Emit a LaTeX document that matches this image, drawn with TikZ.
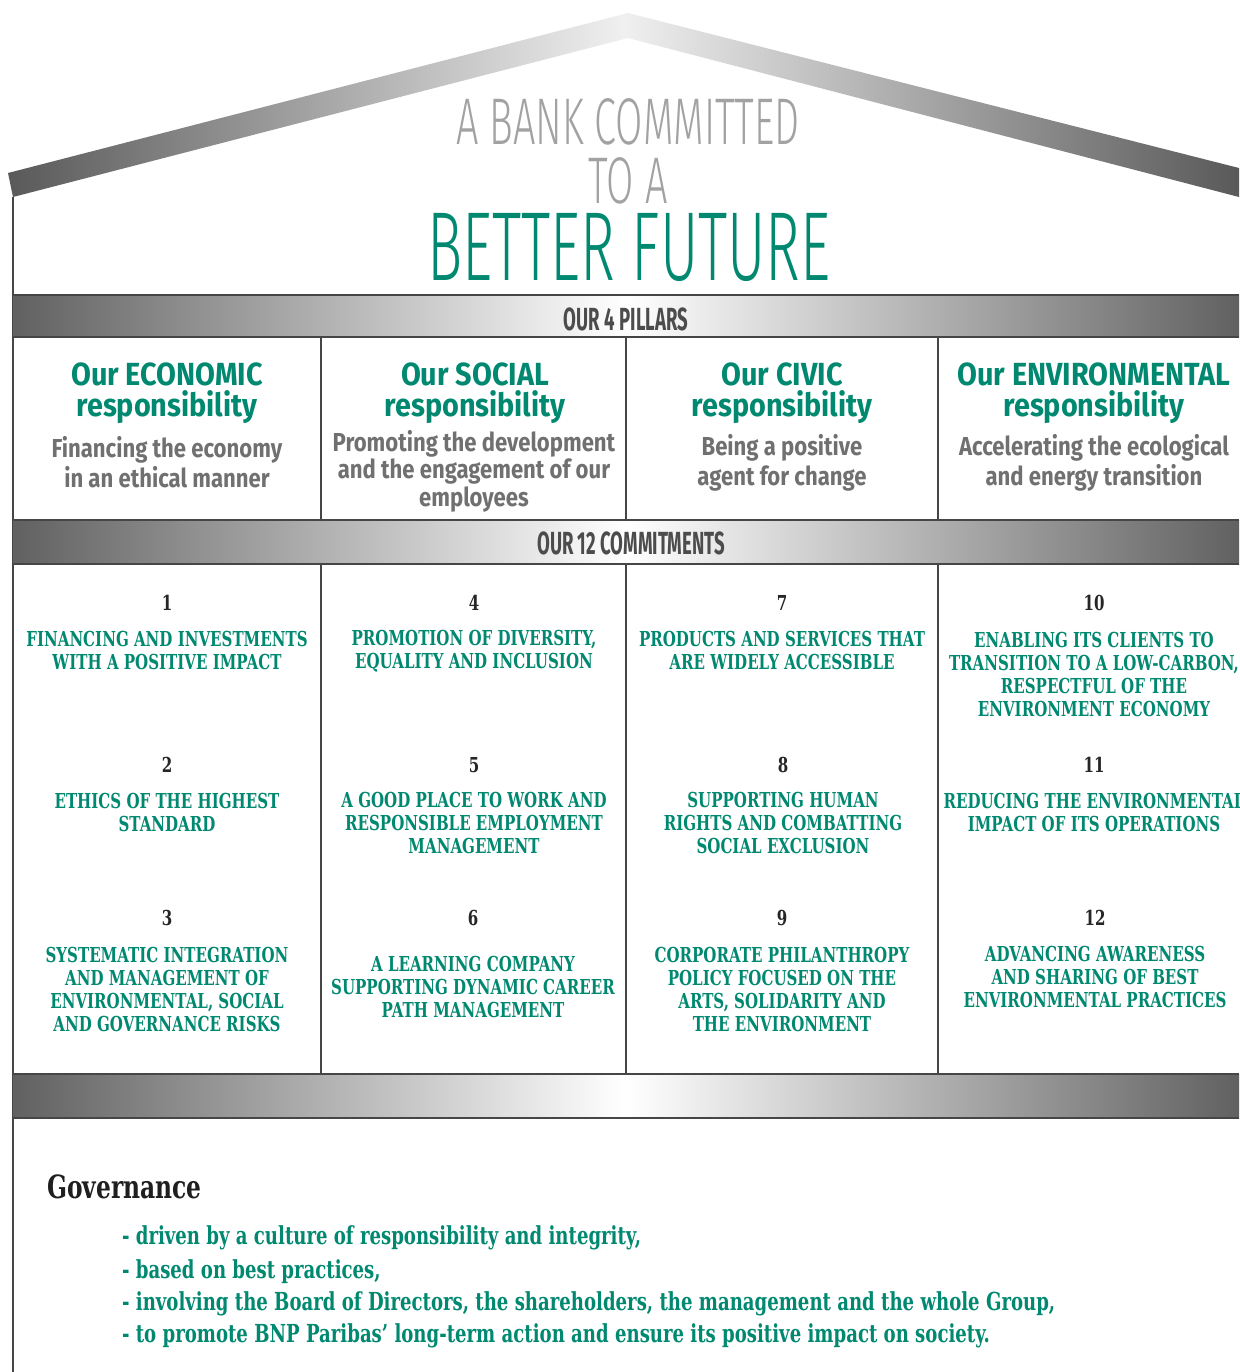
\documentclass[tikz,border=0pt]{standalone}
\usepackage{fontspec}
\setmainfont{Fira Sans}
\newfontfamily\titlefont{Fira Sans Light}[FakeStretch=0.6]
\newfontfamily\bandfont{Fira Sans}[FakeStretch=0.58]
\newfontfamily\headfont{Fira Sans}[FakeStretch=0.9]
\newfontfamily\subfont{Fira Sans}[FakeStretch=0.85]
\newfontfamily\slabfont{DejaVu Serif}[FakeStretch=0.73]
\usetikzlibrary{positioning}

\definecolor{bnpgreen}{RGB}{0,137,112}
\definecolor{titlegray}{RGB}{162,162,162}
\definecolor{subgray}{RGB}{112,112,112}
\definecolor{rulegray}{RGB}{70,70,70}

\tikzset{
  rule/.style={draw=rulegray, line width=0.8pt},
  band/.style={left color=black!62, right color=black!62, middle color=white},
  titletext/.style={inner sep=0pt, text=titlegray, font=\titlefont\fontsize{33}{33}\selectfont},
  bandlabel/.style={font=\bandfont\bfseries\fontsize{16}{16}\selectfont, text=black!70},
  pillarhead/.style={font=\headfont\bfseries\fontsize{16}{15.5}\selectfont, text=bnpgreen, align=center},
  pillarsub/.style={font=\subfont\bfseries\fontsize{13}{15}\selectfont, text=subgray, align=center},
  numlabel/.style={font=\slabfont\bfseries\fontsize{10.3}{11}\selectfont, text=black!85},
  commit/.style={font=\slabfont\bfseries\fontsize{10.3}{11.5}\selectfont, text=bnpgreen, align=center},
  govline/.style={font=\slabfont\bfseries\fontsize{12.4}{14}\selectfont, text=bnpgreen, anchor=west},
}

\begin{document}
\begin{tikzpicture}[x=0.5pt, y=-0.5pt]
    \fill[white] (0,0) rectangle (1239,1372);
    \useasboundingbox (0,0) rectangle (1239,1372);

    % Roof
    \shade[left color=black!65, right color=black!65, middle color=black!6]
        (8,173) -- (628,13) -- (1239,168) -- (1239,197) -- (628,38) -- (13,197) -- cycle;
    \draw[rule] (13,197) -- (13,1372);

    % Title
    \node[titletext] (title1) at (628,122) {A BANK COMMITTED};
    \node[titletext] (title2) at (628,181) {TO A};
    \node[titletext, text=bnpgreen, font=\titlefont\fontsize{49}{49}\selectfont] (title3) at (629,247) {BETTER FUTURE};

    % Bands
    \foreach \top/\bot in {295/337, 520/564, 1074/1118} {
        \shade[band] (13,\top) rectangle (1239,\bot);
        \draw[rule] (13,\top) -- (1239,\top) (13,\bot) -- (1239,\bot);
    }
    \node[bandlabel] (pillars) at (626,319) {OUR 4 PILLARS};
    \node[bandlabel] (commitments) at (631,543) {OUR 12 COMMITMENTS};

    % Columns
    \foreach \x in {321,626,938}
        \draw[rule] (\x,337) -- (\x,520) (\x,564) -- (\x,1074);

    % Pillars
    \node[pillarhead] (eco) at (167,393) {Our ECONOMIC\\responsibility};
    \node[pillarhead] (soc) at (475,393) {Our SOCIAL\\responsibility};
    \node[pillarhead] (civ) at (782,393) {Our CIVIC\\responsibility};
    \node[pillarhead] (env) at (1094,393) {Our ENVIRONMENTAL\\responsibility};
    \node[pillarsub] (ecosub) at (167,462) {Financing the economy\\in an ethical manner};
    \node[pillarsub, font=\subfont\bfseries\fontsize{13}{12.5}\selectfont] (socsub) at (474,471) {Promoting the development\\and the engagement of our\\employees};
    \node[pillarsub] (civsub) at (782,463) {Being a positive\\agent for change};
    \node[pillarsub] (envsub) at (1094,463) {Accelerating the ecological\\and energy transition};

    % Commitment numbers
    \foreach \n/\x/\y in {1/167/603, 2/167/765, 3/167/918, 4/474/603, 5/474/765, 6/473/918,
                          7/782/603, 8/783/765, 9/782/918, 10/1094/603, 11/1094/765, 12/1095/918}
        \node[numlabel] (n\n) at (\x,\y) {\n};

    % Commitments
    \node[commit] (c1) at (167,650) {FINANCING AND INVESTMENTS\\WITH A POSITIVE IMPACT};
    \node[commit] (c2) at (167,812) {ETHICS OF THE HIGHEST\\STANDARD};
    \node[commit] (c3) at (167,989) {SYSTEMATIC INTEGRATION\\AND MANAGEMENT OF\\ENVIRONMENTAL, SOCIAL\\AND GOVERNANCE RISKS};
    \node[commit] (c4) at (474,651) {PROMOTION OF DIVERSITY,\\EQUALITY AND INCLUSION};
    \node[commit] (c5) at (474,823) {A GOOD PLACE TO WORK AND\\RESPONSIBLE EMPLOYMENT\\MANAGEMENT};
    \node[commit] (c6) at (473,987) {A LEARNING COMPANY\\SUPPORTING DYNAMIC CAREER\\PATH MANAGEMENT};
    \node[commit] (c7) at (782,650) {PRODUCTS AND SERVICES THAT\\ARE WIDELY ACCESSIBLE};
    \node[commit] (c8) at (783,823) {SUPPORTING HUMAN\\RIGHTS AND COMBATTING\\SOCIAL EXCLUSION};
    \node[commit] (c9) at (782,989) {CORPORATE PHILANTHROPY\\POLICY FOCUSED ON THE\\ARTS, SOLIDARITY AND\\THE ENVIRONMENT};
    \node[commit] (c10) at (1094,674) {ENABLING ITS CLIENTS TO\\TRANSITION TO A LOW-CARBON,\\RESPECTFUL OF THE\\ENVIRONMENT ECONOMY};
    \node[commit] (c11) at (1094,812) {REDUCING THE ENVIRONMENTAL\\IMPACT OF ITS OPERATIONS};
    \node[commit] (c12) at (1095,977) {ADVANCING AWARENESS\\AND SHARING OF BEST\\ENVIRONMENTAL PRACTICES};

    % Governance
    \node[anchor=west, font=\slabfont\bfseries\fontsize{16}{16}\selectfont, text=black!88] (gov) at (40,1187) {Governance};
    \node[govline] (g1) at (115,1238) {- driven by a culture of responsibility and integrity,};
    \node[govline] (g2) at (115,1272) {- based on best practices,};
    \node[govline] (g3) at (115,1304) {- involving the Board of Directors, the shareholders, the management and the whole Group,};
    \node[govline] (g4) at (115,1336) {- to promote BNP Paribas’ long-term action and ensure its positive impact on society.};

\end{tikzpicture}
\end{document}
